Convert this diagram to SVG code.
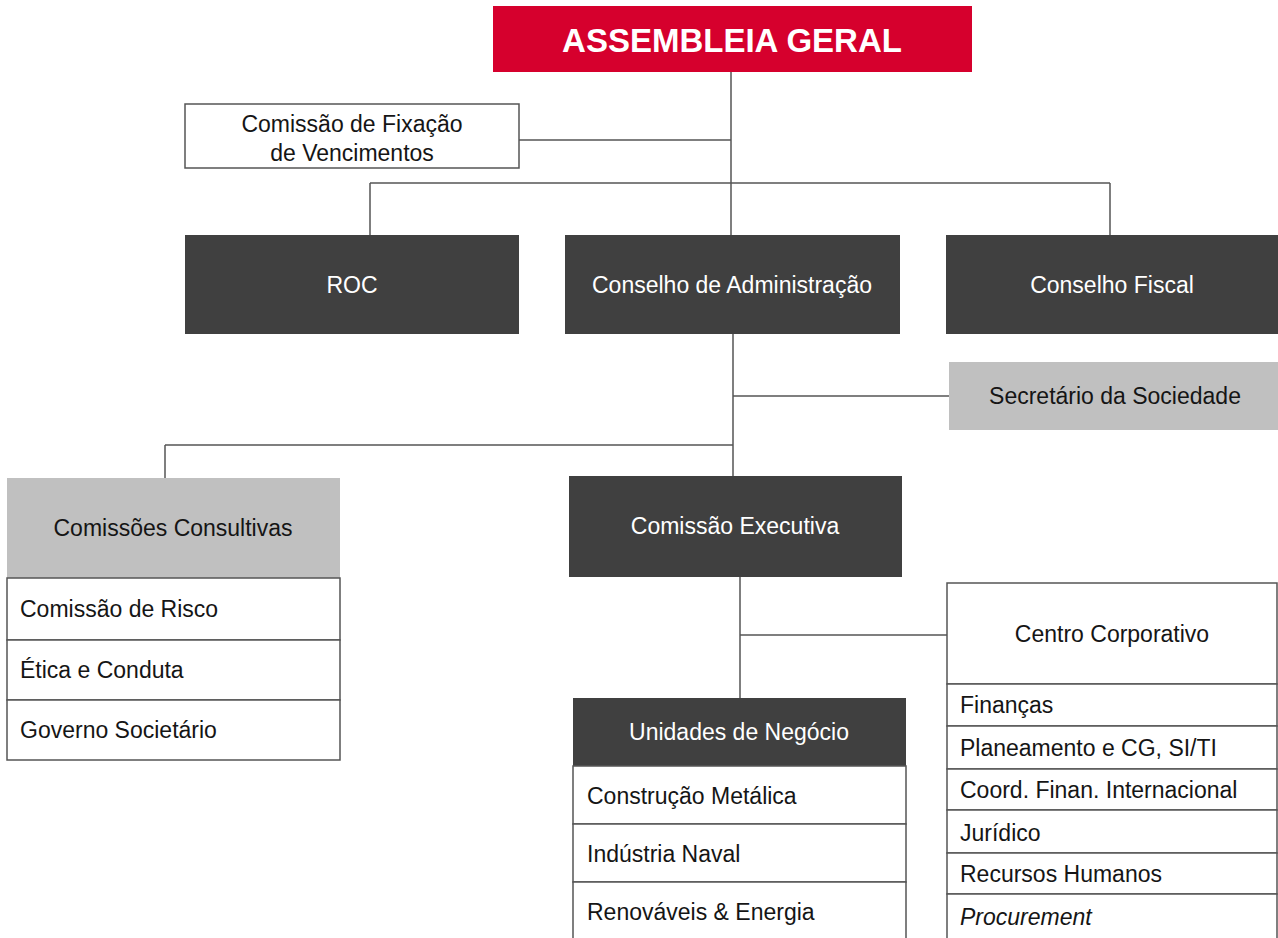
<svg xmlns="http://www.w3.org/2000/svg" width="1278" height="938" viewBox="0 0 1278 938">
<style>
text{font-family:"Liberation Sans",Arial,Helvetica,sans-serif;font-size:23px;fill:#151515}
.w{fill:#ffffff}
.c{text-anchor:middle}
.dark{fill:#404040}
.gray{fill:#c0c0c0}
.box{fill:#ffffff;stroke:#555555;stroke-width:1.5}
.ln{stroke:#555555;stroke-width:1.5;fill:none}
</style>
<rect width="1278" height="938" fill="#ffffff"/>
<g id="connectors" class="ln">
<path d="M731 72V235"/>
<path d="M519 140H731"/>
<path d="M370 183H1110"/>
<path d="M370 183V235"/>
<path d="M1110 183V235"/>
<path d="M733 334V476"/>
<path d="M733 396H949"/>
<path d="M165 445H733"/>
<path d="M165 445V478"/>
<path d="M740 577V698"/>
<path d="M740 635H947"/>
</g>
<g id="assembleia">
<rect x="493" y="6" width="479" height="66" fill="#d6002d"/>
<text class="w c" x="732" y="52" style="font-size:33px;font-weight:bold">ASSEMBLEIA GERAL</text>
</g>
<g id="fixacao">
<rect class="box" x="185" y="104" width="334" height="64"/>
<text class="c" x="352" y="132">Comissão de Fixação</text>
<text class="c" x="352" y="161">de Vencimentos</text>
</g>
<g id="roc">
<rect class="dark" x="185" y="235" width="334" height="99"/>
<text class="w c" x="352" y="293">ROC</text>
</g>
<g id="conselho-admin">
<rect class="dark" x="565" y="235" width="335" height="99"/>
<text class="w c" x="732" y="293">Conselho de Administração</text>
</g>
<g id="conselho-fiscal">
<rect class="dark" x="946" y="235" width="332" height="99"/>
<text class="w c" x="1112" y="293">Conselho Fiscal</text>
</g>
<g id="secretario">
<rect class="gray" x="949" y="362" width="329" height="68"/>
<text class="c" x="1115" y="404">Secretário da Sociedade</text>
</g>
<g id="comissoes-consultivas">
<rect class="gray" x="7" y="478" width="333" height="100"/>
<text class="c" x="173" y="536">Comissões Consultivas</text>
<rect class="box" x="7" y="578" width="333" height="62"/>
<rect class="box" x="7" y="640" width="333" height="60"/>
<rect class="box" x="7" y="700" width="333" height="60"/>
<text x="20" y="617">Comissão de Risco</text>
<text x="20" y="678">Ética e Conduta</text>
<text x="20" y="738">Governo Societário</text>
</g>
<g id="comissao-executiva">
<rect class="dark" x="569" y="476" width="333" height="101"/>
<text class="w c" x="735" y="534">Comissão Executiva</text>
</g>
<g id="centro-corporativo">
<rect class="box" x="947" y="583" width="330" height="101"/>
<text class="c" x="1112" y="642">Centro Corporativo</text>
<rect class="box" x="947" y="684" width="330" height="42"/>
<rect class="box" x="947" y="726" width="330" height="43"/>
<rect class="box" x="947" y="769" width="330" height="41"/>
<rect class="box" x="947" y="810" width="330" height="43"/>
<rect class="box" x="947" y="853" width="330" height="41"/>
<rect class="box" x="947" y="894" width="330" height="50"/>
<text x="960" y="713">Finanças</text>
<text x="960" y="756">Planeamento e CG, SI/TI</text>
<text x="960" y="798">Coord. Finan. Internacional</text>
<text x="960" y="841">Jurídico</text>
<text x="960" y="882">Recursos Humanos</text>
<text x="960" y="925" style="font-style:italic">Procurement</text>
</g>
<g id="unidades-negocio">
<rect class="dark" x="573" y="698" width="333" height="68"/>
<text class="w c" x="739" y="740">Unidades de Negócio</text>
<rect class="box" x="573" y="766" width="333" height="58"/>
<rect class="box" x="573" y="824" width="333" height="58"/>
<rect class="box" x="573" y="882" width="333" height="70"/>
<text x="587" y="804">Construção Metálica</text>
<text x="587" y="862">Indústria Naval</text>
<text x="587" y="920">Renováveis &amp; Energia</text>
</g>
</svg>
